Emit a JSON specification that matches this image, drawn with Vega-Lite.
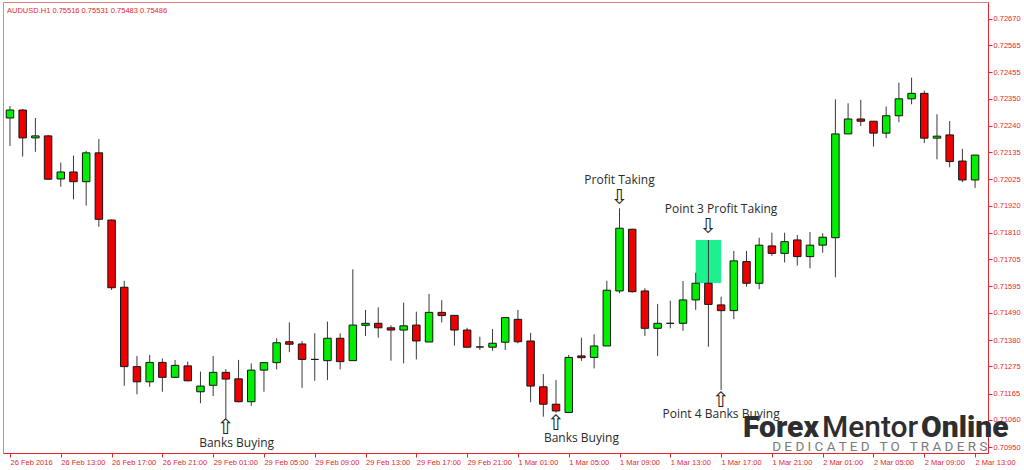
{
  "$schema": "https://vega.github.io/schema/vega-lite/v6.json",
  "width": 985,
  "height": 451,
  "autosize": "none",
  "padding": {"left": 3, "top": 2, "right": 36, "bottom": 17},
  "background": "white",
  "title": {"text": "AUDUSD.H1  0.75516 0.75531 0.75483 0.75486", "anchor": "start", "frame": "group", "orient": "top", "offset": -12, "dx": 4, "font": "Liberation Sans", "fontSize": 7.5, "fontWeight": "normal", "color": "#e5262f"},
  "config": {
    "view": {"stroke": "#e88080", "strokeWidth": 1},
    "axis": {"grid": false, "labelFont": "Liberation Sans", "labelFontSize": 7.5, "labelColor": "#e5262f", "domainColor": "#e5262f", "tickColor": "#e5262f", "tickSize": 4, "labelPadding": 1, "labelOverlap": false, "labelFlush": false, "labelBound": false, "tickCount": 100}
  },
  "datasets": {
    "candles": [
      {"i":0,"t":"26 Feb 09:00","o":0.72272,"h":0.72320,"l":0.72160,"c":0.72304},
      {"i":1,"t":"26 Feb 10:00","o":0.72304,"h":0.72308,"l":0.72117,"c":0.72192},
      {"i":2,"t":"26 Feb 11:00","o":0.72192,"h":0.72272,"l":0.72136,"c":0.72200},
      {"i":3,"t":"26 Feb 12:00","o":0.72200,"h":0.72204,"l":0.72023,"c":0.72026},
      {"i":4,"t":"26 Feb 13:00","o":0.72027,"h":0.72093,"l":0.71996,"c":0.72055},
      {"i":5,"t":"26 Feb 14:00","o":0.72055,"h":0.72121,"l":0.71945,"c":0.72016},
      {"i":6,"t":"26 Feb 15:00","o":0.72016,"h":0.72140,"l":0.71920,"c":0.72132},
      {"i":7,"t":"26 Feb 16:00","o":0.72132,"h":0.72188,"l":0.71835,"c":0.71865},
      {"i":8,"t":"26 Feb 17:00","o":0.71862,"h":0.71864,"l":0.71581,"c":0.71590},
      {"i":9,"t":"26 Feb 18:00","o":0.71592,"h":0.71618,"l":0.71196,"c":0.71273},
      {"i":10,"t":"26 Feb 19:00","o":0.71273,"h":0.71316,"l":0.71162,"c":0.71212},
      {"i":11,"t":"26 Feb 20:00","o":0.71212,"h":0.71320,"l":0.71192,"c":0.71290},
      {"i":12,"t":"26 Feb 21:00","o":0.71290,"h":0.71306,"l":0.71172,"c":0.71230},
      {"i":13,"t":"26 Feb 22:00","o":0.71230,"h":0.71300,"l":0.71228,"c":0.71278},
      {"i":14,"t":"26 Feb 23:00","o":0.71276,"h":0.71293,"l":0.71214,"c":0.71216},
      {"i":15,"t":"29 Feb 00:00","o":0.71172,"h":0.71253,"l":0.71126,"c":0.71195},
      {"i":16,"t":"29 Feb 01:00","o":0.71198,"h":0.71316,"l":0.71155,"c":0.71250},
      {"i":17,"t":"29 Feb 02:00","o":0.71250,"h":0.71263,"l":0.71065,"c":0.71223},
      {"i":18,"t":"29 Feb 03:00","o":0.71224,"h":0.71300,"l":0.71130,"c":0.71132},
      {"i":19,"t":"29 Feb 04:00","o":0.71132,"h":0.71286,"l":0.71115,"c":0.71259},
      {"i":20,"t":"29 Feb 05:00","o":0.71259,"h":0.71290,"l":0.71172,"c":0.71289},
      {"i":21,"t":"29 Feb 06:00","o":0.71289,"h":0.71387,"l":0.71262,"c":0.71369},
      {"i":22,"t":"29 Feb 07:00","o":0.71373,"h":0.71451,"l":0.71331,"c":0.71363},
      {"i":23,"t":"29 Feb 08:00","o":0.71364,"h":0.71376,"l":0.71188,"c":0.71302},
      {"i":24,"t":"29 Feb 09:00","o":0.71302,"h":0.71407,"l":0.71216,"c":0.71302},
      {"i":25,"t":"29 Feb 10:00","o":0.71297,"h":0.71454,"l":0.71219,"c":0.71387},
      {"i":26,"t":"29 Feb 11:00","o":0.71387,"h":0.71407,"l":0.71262,"c":0.71293},
      {"i":27,"t":"29 Feb 12:00","o":0.71297,"h":0.71664,"l":0.71297,"c":0.71440},
      {"i":28,"t":"29 Feb 13:00","o":0.71439,"h":0.71501,"l":0.71396,"c":0.71447},
      {"i":29,"t":"29 Feb 14:00","o":0.71447,"h":0.71511,"l":0.71389,"c":0.71429},
      {"i":30,"t":"29 Feb 15:00","o":0.71429,"h":0.71439,"l":0.71297,"c":0.71420},
      {"i":31,"t":"29 Feb 16:00","o":0.71420,"h":0.71530,"l":0.71286,"c":0.71437},
      {"i":32,"t":"29 Feb 17:00","o":0.71440,"h":0.71494,"l":0.71302,"c":0.71376},
      {"i":33,"t":"29 Feb 18:00","o":0.71372,"h":0.71565,"l":0.71372,"c":0.71491},
      {"i":34,"t":"29 Feb 19:00","o":0.71491,"h":0.71540,"l":0.71451,"c":0.71478},
      {"i":35,"t":"29 Feb 20:00","o":0.71479,"h":0.71480,"l":0.71357,"c":0.71420},
      {"i":36,"t":"29 Feb 21:00","o":0.71420,"h":0.71429,"l":0.71347,"c":0.71351},
      {"i":37,"t":"29 Feb 22:00","o":0.71352,"h":0.71393,"l":0.71340,"c":0.71352},
      {"i":38,"t":"29 Feb 23:00","o":0.71351,"h":0.71424,"l":0.71337,"c":0.71367},
      {"i":39,"t":"1 Mar 00:00","o":0.71371,"h":0.71470,"l":0.71340,"c":0.71470},
      {"i":40,"t":"1 Mar 01:00","o":0.71463,"h":0.71501,"l":0.71367,"c":0.71373},
      {"i":41,"t":"1 Mar 02:00","o":0.71376,"h":0.71409,"l":0.71130,"c":0.71195},
      {"i":42,"t":"1 Mar 03:00","o":0.71192,"h":0.71243,"l":0.71072,"c":0.71122},
      {"i":43,"t":"1 Mar 04:00","o":0.71122,"h":0.71219,"l":0.71088,"c":0.71095},
      {"i":44,"t":"1 Mar 05:00","o":0.71089,"h":0.71320,"l":0.71086,"c":0.71310},
      {"i":45,"t":"1 Mar 06:00","o":0.71316,"h":0.71389,"l":0.71296,"c":0.71309},
      {"i":46,"t":"1 Mar 07:00","o":0.71310,"h":0.71403,"l":0.71266,"c":0.71356},
      {"i":47,"t":"1 Mar 08:00","o":0.71356,"h":0.71618,"l":0.71356,"c":0.71580},
      {"i":48,"t":"1 Mar 09:00","o":0.71577,"h":0.71909,"l":0.71568,"c":0.71829},
      {"i":49,"t":"1 Mar 10:00","o":0.71825,"h":0.71827,"l":0.71570,"c":0.71574},
      {"i":50,"t":"1 Mar 11:00","o":0.71577,"h":0.71588,"l":0.71396,"c":0.71427},
      {"i":51,"t":"1 Mar 12:00","o":0.71427,"h":0.71525,"l":0.71316,"c":0.71447},
      {"i":52,"t":"1 Mar 13:00","o":0.71447,"h":0.71538,"l":0.71427,"c":0.71447},
      {"i":53,"t":"1 Mar 14:00","o":0.71447,"h":0.71617,"l":0.71417,"c":0.71541},
      {"i":54,"t":"1 Mar 15:00","o":0.71541,"h":0.71650,"l":0.71501,"c":0.71608},
      {"i":55,"t":"1 Mar 16:00","o":0.71608,"h":0.71782,"l":0.71353,"c":0.71523},
      {"i":56,"t":"1 Mar 17:00","o":0.71521,"h":0.71554,"l":0.71179,"c":0.71498},
      {"i":57,"t":"1 Mar 18:00","o":0.71498,"h":0.71738,"l":0.71464,"c":0.71698},
      {"i":58,"t":"1 Mar 19:00","o":0.71695,"h":0.71738,"l":0.71594,"c":0.71608},
      {"i":59,"t":"1 Mar 20:00","o":0.71608,"h":0.71791,"l":0.71584,"c":0.71761},
      {"i":60,"t":"1 Mar 21:00","o":0.71758,"h":0.71811,"l":0.71718,"c":0.71728},
      {"i":61,"t":"1 Mar 22:00","o":0.71728,"h":0.71811,"l":0.71692,"c":0.71775},
      {"i":62,"t":"1 Mar 23:00","o":0.71782,"h":0.71802,"l":0.71679,"c":0.71715},
      {"i":63,"t":"2 Mar 00:00","o":0.71715,"h":0.71814,"l":0.71668,"c":0.71761},
      {"i":64,"t":"2 Mar 01:00","o":0.71761,"h":0.71809,"l":0.71731,"c":0.71793},
      {"i":65,"t":"2 Mar 02:00","o":0.71791,"h":0.72347,"l":0.71632,"c":0.72208},
      {"i":66,"t":"2 Mar 03:00","o":0.72208,"h":0.72331,"l":0.72208,"c":0.72268},
      {"i":67,"t":"2 Mar 04:00","o":0.72268,"h":0.72345,"l":0.72240,"c":0.72259},
      {"i":68,"t":"2 Mar 05:00","o":0.72259,"h":0.72260,"l":0.72157,"c":0.72211},
      {"i":69,"t":"2 Mar 06:00","o":0.72211,"h":0.72318,"l":0.72191,"c":0.72281},
      {"i":70,"t":"2 Mar 07:00","o":0.72281,"h":0.72414,"l":0.72255,"c":0.72349},
      {"i":71,"t":"2 Mar 08:00","o":0.72349,"h":0.72434,"l":0.72327,"c":0.72371},
      {"i":72,"t":"2 Mar 09:00","o":0.72371,"h":0.72382,"l":0.72171,"c":0.72191},
      {"i":73,"t":"2 Mar 10:00","o":0.72191,"h":0.72287,"l":0.72106,"c":0.72199},
      {"i":74,"t":"2 Mar 11:00","o":0.72204,"h":0.72260,"l":0.72074,"c":0.72097},
      {"i":75,"t":"2 Mar 12:00","o":0.72099,"h":0.72148,"l":0.72014,"c":0.72023},
      {"i":76,"t":"2 Mar 13:00","o":0.72023,"h":0.72123,"l":0.71991,"c":0.72123}
    ],
    "highlight": [{"i0":54,"i1":56,"p0":0.71609,"p1":0.71782}],
    "notes": [
      {"i":48,"p":0.72023,"label":"Profit Taking"},
      {"i":56,"p":0.71906,"label":"Point 3 Profit Taking"},
      {"i":17.85,"p":0.70966,"label":"Banks Buying"},
      {"i":45,"p":0.70986,"label":"Banks Buying"},
      {"i":56,"p":0.71083,"label":"Point 4 Banks Buying"}
    ],
    "arrows": [
      {"i":48,"p":0.71951,"label":"⇩"},
      {"i":55,"p":0.71834,"label":"⇩"},
      {"i":17,"p":0.71026,"label":"⇧"},
      {"i":43,"p":0.71042,"label":"⇧"},
      {"i":56,"p":0.71135,"label":"⇧"}
    ],
    "logo": [
      {"i":63.7,"p":0.70990,"label":"Forex","part":"left"},
      {"i":67.73,"p":0.70990,"label":"Mentor","part":"mid"},
      {"i":71.75,"p":0.70990,"label":"Online","part":"right"},
      {"i":60.02,"p":0.70934,"label":"D E D I C A T E D \u00a0 T O \u00a0 T R A D E R S","part":"tag"}
    ]
  },
  "layer": [
    {
      "data": {"name": "highlight"},
      "mark": {"type": "rect", "color": "#1df08e"},
      "encoding": {
        "x": {"field": "i0", "type": "quantitative", "scale": {"domain": [-0.156, 76.624], "nice": false, "zero": false},
              "axis": {"title": null, "values": [0,4,8,12,16,20,24,28,32,36,40,44,48,52,56,60,64,68,72,76], "labelAlign": "left", "labelBaseline": "top",
                       "labelExpr": "['26 Feb 2016','26 Feb 13:00','26 Feb 17:00','26 Feb 21:00','29 Feb 01:00','29 Feb 05:00','29 Feb 09:00','29 Feb 13:00','29 Feb 17:00','29 Feb 21:00','1 Mar 01:00','1 Mar 05:00','1 Mar 09:00','1 Mar 13:00','1 Mar 17:00','1 Mar 21:00','2 Mar 01:00','2 Mar 05:00','2 Mar 09:00','2 Mar 13:00'][round(datum.value/4)]"}},
        "x2": {"field": "i1"},
        "y": {"field": "p0", "type": "quantitative", "scale": {"domain": [0.70926, 0.72738], "nice": false, "zero": false},
              "axis": {"title": null, "orient": "right", "tickCount": 100, "values": [0.72670,0.72565,0.72455,0.72350,0.72240,0.72135,0.72025,0.71920,0.71810,0.71705,0.71595,0.71490,0.71380,0.71275,0.71165,0.71060,0.70950], "format": ".5f"}},
        "y2": {"field": "p1"}
      }
    },
    {
      "data": {"name": "candles"},
      "mark": {"type": "rule", "color": "#3a3a3a", "strokeWidth": 1},
      "encoding": {
        "x": {"field": "i", "type": "quantitative", "axis": {"title": null}},
        "y": {"field": "l", "type": "quantitative", "axis": {"title": null}},
        "y2": {"field": "h"}
      }
    },
    {
      "data": {"name": "candles"},
      "mark": {"type": "bar", "width": 7.5, "stroke": "#151515", "strokeWidth": 1},
      "encoding": {
        "x": {"field": "i", "type": "quantitative", "axis": {"title": null}},
        "y": {"field": "o", "type": "quantitative", "axis": {"title": null}},
        "y2": {"field": "c"},
        "color": {"condition": [{"test": "datum.c > datum.o", "value": "#00ee00"}, {"test": "datum.c < datum.o", "value": "#ee0000"}], "value": "#151515"}
      }
    },
    {
      "data": {"name": "notes"},
      "mark": {"type": "text", "font": "Open Sans", "fontSize": 12, "color": "#2a2a2a", "baseline": "middle", "align": "center"},
      "encoding": {
        "x": {"field": "i", "type": "quantitative", "axis": {"title": null}},
        "y": {"field": "p", "type": "quantitative", "axis": {"title": null}},
        "text": {"field": "label"}
      }
    },
    {
      "data": {"name": "arrows"},
      "mark": {"type": "text", "font": "DejaVu Sans", "fontSize": 21, "color": "#222222", "baseline": "middle", "align": "center"},
      "encoding": {
        "x": {"field": "i", "type": "quantitative", "axis": {"title": null}},
        "y": {"field": "p", "type": "quantitative", "axis": {"title": null}},
        "text": {"field": "label"}
      }
    },
    {
      "data": {"name": "logo"},
      "transform": [{"filter": "datum.part == 'left'"}],
      "mark": {"type": "text", "font": "Roboto", "fontSize": 30, "fontWeight": 900, "color": "#2e2e2e", "baseline": "alphabetic", "align": "right"},
      "encoding": {
        "x": {"field": "i", "type": "quantitative", "axis": {"title": null}},
        "y": {"field": "p", "type": "quantitative", "axis": {"title": null}},
        "text": {"field": "label"}
      }
    },
    {
      "data": {"name": "logo"},
      "transform": [{"filter": "datum.part == 'mid'"}],
      "mark": {"type": "text", "font": "Roboto", "fontSize": 30, "fontWeight": 500, "color": "#2e2e2e", "baseline": "alphabetic", "align": "center"},
      "encoding": {
        "x": {"field": "i", "type": "quantitative", "axis": {"title": null}},
        "y": {"field": "p", "type": "quantitative", "axis": {"title": null}},
        "text": {"field": "label"}
      }
    },
    {
      "data": {"name": "logo"},
      "transform": [{"filter": "datum.part == 'right'"}],
      "mark": {"type": "text", "font": "Roboto", "fontSize": 30, "fontWeight": 900, "color": "#2e2e2e", "baseline": "alphabetic", "align": "left"},
      "encoding": {
        "x": {"field": "i", "type": "quantitative", "axis": {"title": null}},
        "y": {"field": "p", "type": "quantitative", "axis": {"title": null}},
        "text": {"field": "label"}
      }
    },
    {
      "data": {"name": "logo"},
      "transform": [{"filter": "datum.part == 'tag'"}],
      "mark": {"type": "text", "font": "Roboto", "fontSize": 13.5, "color": "#7a7a7a", "baseline": "alphabetic", "align": "left"},
      "encoding": {
        "x": {"field": "i", "type": "quantitative", "axis": {"title": null}},
        "y": {"field": "p", "type": "quantitative", "axis": {"title": null}},
        "text": {"field": "label"}
      }
    }
  ]
}
